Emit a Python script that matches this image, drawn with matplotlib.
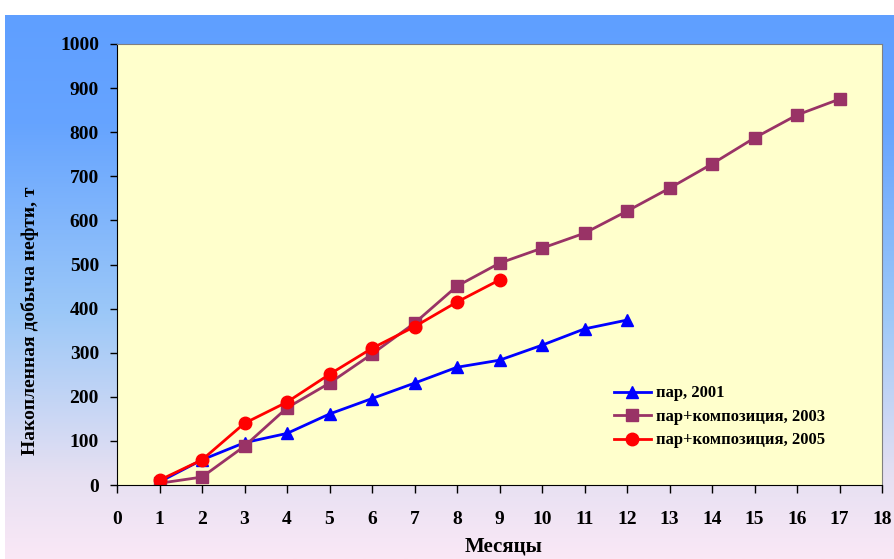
import numpy as np
import matplotlib
matplotlib.use("Agg")
import matplotlib.pyplot as plt
from matplotlib.colors import LinearSegmentedColormap

plt.rcParams['font.family'] = ['Liberation Serif', 'DejaVu Serif']
plt.rcParams['font.weight'] = 'bold'

# data
months_2001 = [1, 2, 3, 4, 5, 6, 7, 8, 9, 10, 11, 12]
oil_2001 = [7, 57, 96, 117, 161, 196, 231, 267, 283, 317, 354, 374]

months_2003 = [1, 2, 3, 4, 5, 6, 7, 8, 9, 10, 11, 12, 13, 14, 15, 16, 17]
oil_2003 = [4, 18, 88, 175, 231, 297, 367, 451, 503, 537, 571, 621, 673, 728, 787, 839, 875]

months_2005 = [1, 2, 3, 4, 5, 6, 7, 8, 9]
oil_2005 = [11, 57, 140, 188, 251, 310, 359, 415, 465]

labels = ['пар, 2001', 'пар+композиция, 2003', 'пар+композиция, 2005']

fig = plt.figure(figsize=(8.95, 5.59), dpi=100)
fig.patch.set_facecolor('white')

# gradient background
bg = fig.add_axes([5 / 895, 0, 1 - 5 / 895, (559 - 15) / 559])
cmap = LinearSegmentedColormap.from_list('bg', [
    (0.0, '#FAE8F6'), (0.15, '#E6E0F2'), (0.45, '#9CC8F8'),
    (0.8, '#66A4FF'), (1.0, '#5F9FFF')])
grad = np.linspace(0, 1, 256).reshape(-1, 1)
bg.imshow(grad, aspect='auto', cmap=cmap, origin='lower', extent=[0, 1, 0, 1])
bg.axis('off')

ax = fig.add_axes([117 / 895, 1 - 485 / 559, (882 - 117) / 895, (485 - 44) / 559])
ax.set_facecolor('#FFFFCC')

ax.plot(months_2001, oil_2001, color='#0000FF', lw=2, marker='^', ms=9, label=labels[0])
ax.plot(months_2003, oil_2003, color='#993366', lw=2, marker='s', ms=8.5, label=labels[1])
ax.plot(months_2005, oil_2005, color='#FF0000', lw=2, marker='o', ms=9, label=labels[2])

ax.set_xlim(0, 18)
ax.set_ylim(0, 1000)
ax.set_xticks(range(0, 19))
ax.set_yticks(range(0, 1001, 100))
ax.tick_params(axis='both', direction='out', labelsize=14, width=1)
ax.tick_params(axis='x', length=6, pad=13)
ax.tick_params(axis='y', length=5, pad=8)
for s in ['top', 'right']:
    ax.spines[s].set_color('#808080')
for s in ['left', 'bottom']:
    ax.spines[s].set_color('black')

ax.set_xlabel('Месяцы', fontsize=15, fontweight='bold')
ax.set_ylabel('Накопленная добыча нефти, т', fontsize=14, fontweight='bold')
ax.xaxis.set_label_coords(0.505, -0.117)
ax.yaxis.set_label_coords(-0.102, 0.372)

leg = ax.legend(loc='upper left', bbox_to_anchor=(0.63, 0.26), frameon=False,
                fontsize=12, handlelength=2.2, handletextpad=0.3, labelspacing=0.45)

fig.savefig('out.png', dpi=100)
